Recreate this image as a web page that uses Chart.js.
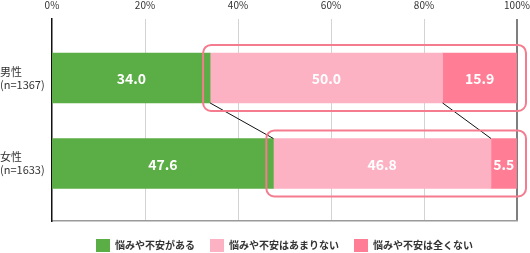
<!DOCTYPE html>
<html>
<head>
<meta charset="utf-8">
<script src="https://cdn.jsdelivr.net/npm/chart.js"></script>
<style>
  html, body { margin: 0; padding: 0; background: #fff; }
  #wrap { width: 530px; height: 253px; }
</style>
</head>
<body>
<div id="wrap"><canvas id="chart"></canvas></div>
<script>
// rows (top to bottom)
const rowLabels = [['男性', '(n=1367)'], ['女性', '(n=1633)']];
const seriesNames = ['悩みや不安がある', '悩みや不安はあまりない', '悩みや不安は全くない'];
const hasWorry = [34.0, 47.6];
const notMuch = [50.0, 46.8];
const notAtAll = [15.9, 5.5];
const xTicks = [0, 20, 40, 60, 80, 100];

const colors = ['#5bad45', '#fcb2c3', '#ff7e95'];
const FONT = "'Noto Sans CJK JP', 'Noto Sans', sans-serif";

const toPoints = arr => arr.map((v, i) => ({x: v, y: i}));

const data = {
  datasets: [hasWorry, notMuch, notAtAll].map((arr, i) => ({
    label: seriesNames[i],
    data: toPoints(arr),
    backgroundColor: colors[i],
    barThickness: 50,
  }))
};

// value labels, connector lines and rounded frames
const overlay = {
  id: 'overlay',
  afterInit(chart) {
    // legend keeps its side padding but only takes 29px of height
    const lg = chart.legend;
    const fit = lg.fit;
    lg.fit = function () { fit.call(this); this.height = 29; };
  },
  afterDatasetsDraw(chart) {
    const ctx = chart.ctx;
    const area = chart.chartArea;
    const m0 = chart.getDatasetMeta(0).data;
    const m1 = chart.getDatasetMeta(1).data;
    ctx.save();
    // connector lines between rows
    ctx.strokeStyle = '#111';
    ctx.lineWidth = 1;
    [m0, m1].forEach(m => {
      ctx.beginPath();
      ctx.moveTo(m[0].x, m[0].y + m[0].height / 2);
      ctx.lineTo(m[1].x, m[1].y - m[1].height / 2);
      ctx.stroke();
    });
    // rounded frames around the "not" part
    ctx.strokeStyle = '#f57b8f';
    ctx.lineWidth = 2;
    m0.forEach((el, i) => {
      const l = el.x - 7, t = el.y - el.height / 2 - 8;
      const w = area.right + 9 - l, h = el.height + 16;
      ctx.beginPath();
      ctx.roundRect(l, t, w, h, 8);
      ctx.stroke();
    });
    // values
    ctx.fillStyle = '#fff';
    ctx.font = 'bold 14px ' + FONT;
    ctx.textAlign = 'center';
    ctx.textBaseline = 'middle';
    chart.data.datasets.forEach((ds, di) => {
      chart.getDatasetMeta(di).data.forEach((el, i) => {
        ctx.fillText(ds.data[i].x.toFixed(1), (el.base + el.x) / 2, el.y + 1);
      });
    });
    ctx.restore();
  }
};

new Chart(document.getElementById('chart'), {
  type: 'bar',
  data: data,
  plugins: [overlay],
  options: {
    indexAxis: 'y',
    responsive: true,
    maintainAspectRatio: false,
    animation: false,
    layout: { padding: 0 },
    plugins: {
      tooltip: { enabled: false },
      legend: {
        position: 'bottom',
        fullSize: false,
        labels: {
          boxWidth: 14,
          boxHeight: 13,
          padding: 15,
          color: '#333',
          font: { family: FONT, size: 10, weight: 'bold' }
        }
      }
    },
    scales: {
      x: {
        type: 'linear',
        position: 'top',
        stacked: true,
        min: 0,
        max: 100,
        afterBuildTicks: s => { s.ticks = xTicks.map(v => ({value: v})); },
        afterFit: s => { s.height = 19; s.paddingLeft = 0; s.paddingRight = 13; },
        ticks: {
          padding: 8,
          color: '#333',
          font: { family: FONT, size: 10 },
          callback: v => v + '%'
        },
        grid: {
          drawTicks: false,
          color: c => c.tick && c.tick.value === 0 ? 'rgba(0,0,0,0)' : (c.tick && c.tick.value === 100 ? '#7f7f7f' : '#d3d3d3'),
          lineWidth: c => c.tick && c.tick.value === 100 ? 2 : 1
        },
        border: { display: false }
      },
      x2: {
        type: 'linear',
        position: 'bottom',
        min: 0,
        max: 100,
        afterFit: s => { s.height = 3; s.paddingLeft = 0; s.paddingRight = 0; },
        ticks: { display: false },
        grid: { display: false, drawTicks: false },
        border: { display: true, color: '#9a9a9a', width: 1.5 }
      },
      y: {
        type: 'linear',
        stacked: true,
        reverse: true,
        offset: false,
        min: -0.69,
        max: 1.673,
        afterFit: s => { s.width = 52; },
        ticks: {
          stepSize: 1,
          includeBounds: false,
          crossAlign: 'far',
          padding: 0,
          color: '#333',
          font: { family: FONT, size: 11, lineHeight: 1.2 },
          callback: v => Number.isInteger(v) && rowLabels[v] ? rowLabels[v] : ''
        },
        grid: { display: false, drawTicks: false, offset: false },
        border: { display: true, color: '#111', width: 1.5 }
      }
    }
  }
});
</script>
</body>
</html>
